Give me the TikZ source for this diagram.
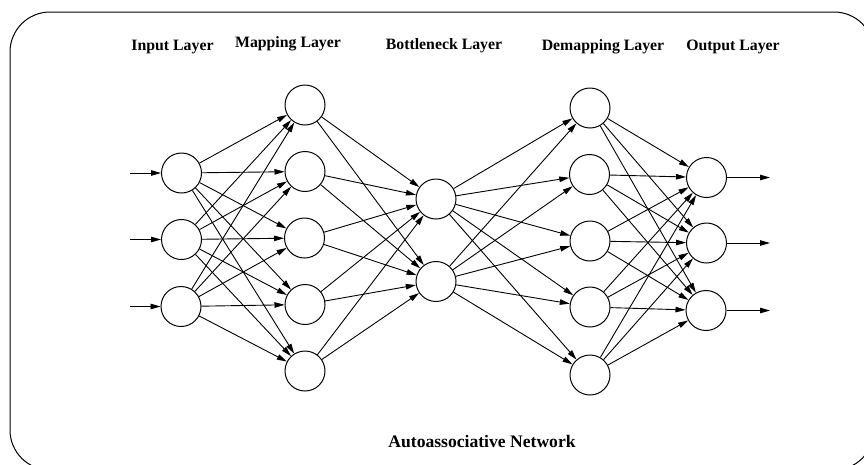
\documentclass[tikz,border=0pt]{standalone}
\usepackage{fontspec}
\setmainfont{Liberation Serif}
\usetikzlibrary{arrows.meta}

\begin{document}
\begin{tikzpicture}[x=1pt,y=-1pt,
  neuron/.style={circle,draw,line width=1pt,minimum size=40pt,inner sep=0pt},
  link/.style={line width=0.9pt,-{Triangle[length=10pt,width=5.5pt]}},
  layerlabel/.style={font=\bfseries\fontsize{15.8}{18}\selectfont,inner sep=0pt},
  titlelabel/.style={font=\bfseries\fontsize{17.6}{20}\selectfont,inner sep=0pt}]

\useasboundingbox (0,0) rectangle (864,464);
\fill[white] (0,0) rectangle (864,464);

% outer frame
\draw[line width=1pt,rounded corners=40pt] (10,12) rectangle (874,470);

% layer titles
\node[layerlabel] (tin)  at (172.5,47) {Input Layer};
\node[layerlabel] (tmap) at (288,44)   {Mapping Layer};
\node[layerlabel] (tbot) at (444,46)   {Bottleneck Layer};
\node[layerlabel] (tdem) at (603,47)   {Demapping Layer};
\node[layerlabel] (tout) at (733,47)   {Output Layer};
\node[titlelabel] (tnet) at (482,441)  {Autoassociative Network};

% input layer
\node[neuron] (i1) at (181.5,173) {};
\node[neuron] (i2) at (181.5,239.5) {};
\node[neuron] (i3) at (181,306.5) {};

% mapping layer
\node[neuron] (m1) at (305,105) {};
\node[neuron] (m2) at (305,171.5) {};
\node[neuron] (m3) at (304.5,238) {};
\node[neuron] (m4) at (305,304.5) {};
\node[neuron] (m5) at (305,371) {};

% bottleneck layer
\node[neuron] (b1) at (436,199) {};
\node[neuron] (b2) at (436,281.5) {};

% demapping layer
\node[neuron] (d1) at (590,108) {};
\node[neuron] (d2) at (589.5,174.5) {};
\node[neuron] (d3) at (590,241) {};
\node[neuron] (d4) at (590,307) {};
\node[neuron] (d5) at (590,375) {};

% output layer
\node[neuron] (o1) at (706.5,177.5) {};
\node[neuron] (o2) at (706.5,243) {};
\node[neuron] (o3) at (706,310.5) {};

% free ends of the external arrows
\coordinate (x1) at (130,173);
\coordinate (x2) at (130,239.5);
\coordinate (x3) at (130,306.5);
\coordinate (y1) at (770,177.5);
\coordinate (y2) at (770,243);
\coordinate (y3) at (770,310.5);

% inputs and outputs
\foreach \k in {1,2,3} {
  \draw[link] (x\k) -- (i\k);
  \draw[link] (o\k) -- (y\k);
}

% fully connected layers
\foreach \a in {1,2,3} \foreach \b in {1,...,5} \draw[link] (i\a) -- (m\b);
\foreach \a in {1,...,5} \foreach \b in {1,2} \draw[link] (m\a) -- (b\b);
\foreach \a in {1,2} \foreach \b in {1,...,5} \draw[link] (b\a) -- (d\b);
\foreach \a in {1,...,5} \foreach \b in {1,2,3} \draw[link] (d\a) -- (o\b);

\end{tikzpicture}
\end{document}
